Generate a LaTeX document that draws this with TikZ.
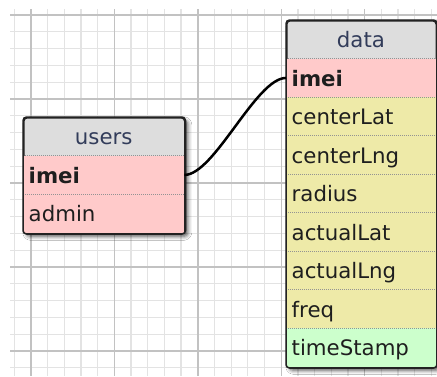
\documentclass[tikz,border=0pt]{standalone}
\usepackage{fontspec}
\setmainfont{DejaVu Sans}
\usetikzlibrary{shadows.blur}
\definecolor{hdr}{HTML}{DDDDDD}
\definecolor{pk}{HTML}{FFCACA}
\definecolor{yl}{HTML}{EEEAA8}
\definecolor{gr}{HTML}{CCFFCC}
\definecolor{gridminor}{HTML}{E3E3E3}
\definecolor{gridmajor}{HTML}{C2C2C2}
\definecolor{bord}{HTML}{222222}
\definecolor{hdrtext}{HTML}{323C5A}
\definecolor{rowtext}{HTML}{1E1E1E}
\tikzset{
  tablebox/.style={draw=bord, line width=1.5pt, rounded corners=3.5pt, fill=hdr,
    blur shadow={shadow xshift=3pt, shadow yshift=-3pt, shadow blur radius=4pt, shadow opacity=70},
    inner sep=0pt, anchor=north west},
  rowbox/.style={rectangle, anchor=north west, minimum height=38.5pt, inner ysep=0pt, inner xsep=5.5pt,
    align=left, text height=17.5pt, text depth=0.5pt, text=rowtext,
    font=\fontsize{21.3}{25}\selectfont},
  hdrbox/.style={rowbox, align=center, text=hdrtext},
  sepline/.style={draw=gray!85, line width=1pt, dash pattern=on 1pt off 1pt},
  conn/.style={draw=black, line width=2.5pt},
  gminor/.style={draw=gridminor, line width=1.3pt},
  gmajor/.style={draw=gridmajor, line width=1.4pt}
}
\begin{document}
\begin{tikzpicture}[x=1pt,y=-1pt]
\useasboundingbox (0,0) rectangle (437,376);
\fill[white] (0,0) rectangle (437,376);
% grid
\begin{scope}
\clip (10,9) rectangle (437,376);
\foreach \k in {0,...,25} \draw[gminor] ({14.32+16.68*\k},0) -- ({14.32+16.68*\k},376);
\foreach \k in {0,...,22} \draw[gminor] (0,{15+16.8*\k}) -- (437,{15+16.8*\k});
\foreach \k in {0,...,4} \draw[gmajor] ({31+83.4*\k},0) -- ({31+83.4*\k},376);
\foreach \k in {0,...,4} \draw[gmajor] (0,{15+84*\k}) -- (437,{15+84*\k});
\end{scope}
% users table
\node[tablebox, minimum width=161pt, minimum height=115.5pt] (users) at (23,117) {};
\begin{scope}
\clip[rounded corners=3.5pt] (users.north west) rectangle (users.south east);
\node[hdrbox, minimum width=161pt, text width=150pt] (uhead) at (23,117) {users};
\node[rowbox, fill=pk, minimum width=161pt, text width=150pt] (uimei) at (23,155.5) {\textbf{imei}};
\node[rowbox, fill=pk, minimum width=161pt, text width=150pt] (uadmin) at (23,194) {admin};
\draw[sepline] (uhead.south west) -- (uhead.south east);
\draw[sepline] (uimei.south west) -- (uimei.south east);
\end{scope}
\draw[draw=bord, line width=1.5pt, rounded corners=3.5pt] (users.north west) rectangle (users.south east);
% data table
\node[tablebox, minimum width=149.5pt, minimum height=346.5pt] (data) at (286,20) {};
\begin{scope}
\clip[rounded corners=3.5pt] (data.north west) rectangle (data.south east);
\node[hdrbox, minimum width=149.5pt, text width=138.5pt] (dhead) at (286,20) {data};
\node[rowbox, fill=pk, minimum width=149.5pt, text width=138.5pt] (dimei) at (286,58.5) {\textbf{imei}};
\node[rowbox, fill=yl, minimum width=149.5pt, text width=138.5pt] (dclat) at (286,97) {centerLat};
\node[rowbox, fill=yl, minimum width=149.5pt, text width=138.5pt] (dclng) at (286,135.5) {centerLng};
\node[rowbox, fill=yl, minimum width=149.5pt, text width=138.5pt] (drad) at (286,174) {radius};
\node[rowbox, fill=yl, minimum width=149.5pt, text width=138.5pt] (dalat) at (286,212.5) {actualLat};
\node[rowbox, fill=yl, minimum width=149.5pt, text width=138.5pt] (dalng) at (286,251) {actualLng};
\node[rowbox, fill=yl, minimum width=149.5pt, text width=138.5pt] (dfreq) at (286,289.5) {freq};
\node[rowbox, fill=gr, minimum width=149.5pt, text width=138.5pt] (dts) at (286,328) {timeStamp};
\foreach \r in {dhead,dimei,dclat,dclng,drad,dalat,dalng,dfreq}
  \draw[sepline] (\r.south west) -- (\r.south east);
\end{scope}
\draw[draw=bord, line width=1.5pt, rounded corners=3.5pt] (data.north west) rectangle (data.south east);
% connector
\draw[conn] (uimei.east) .. controls +(30,0) and +(-30,0) .. (dimei.west);
\end{tikzpicture}
\end{document}
